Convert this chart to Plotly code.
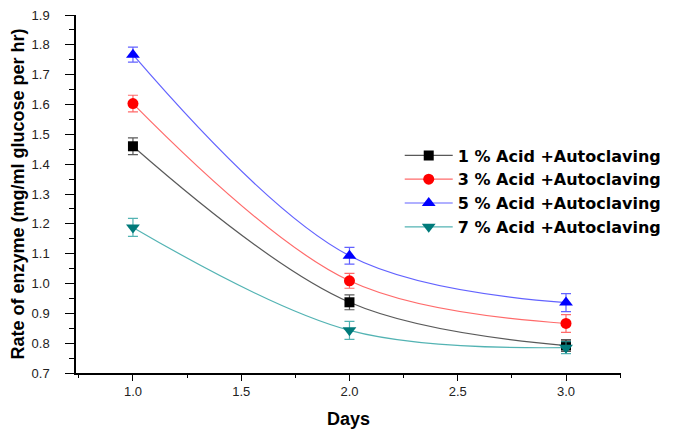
import plotly.graph_objects as go

days = [1.0, 2.0, 3.0]
series_names = ["1 % Acid +Autoclaving", "3 % Acid +Autoclaving",
                "5 % Acid +Autoclaving", "7 % Acid +Autoclaving"]
acid1 = [1.46, 0.937, 0.792]
acid3 = [1.603, 1.009, 0.866]
acid5 = [1.767, 1.093, 0.936]
acid7 = [1.188, 0.843, 0.785]
err1 = [0.028, 0.025, 0.02]
err3 = [0.028, 0.025, 0.03]
err5 = [0.025, 0.028, 0.03]
err7 = [0.03, 0.03, 0.02]

values = [acid1, acid3, acid5, acid7]
errors = [err1, err3, err5, err7]
marker_colors = ["#000000", "#ff0000", "#0000ff", "#007a7a"]
line_colors = ["rgba(60,60,60,0.85)", "rgba(255,80,80,0.85)",
               "rgba(70,70,255,0.85)", "rgba(40,160,160,0.8)"]
symbols = ["square", "circle", "triangle-up", "triangle-down"]
sizes = [10, 11, 12, 12]

fig = go.Figure()
for name, v, e, mc, lc, s, sz in zip(series_names, values, errors, marker_colors, line_colors, symbols, sizes):
    fig.add_trace(go.Scatter(
        x=days, y=v, name=name, mode="lines+markers",
        line=dict(color=lc, width=1.2, shape="spline", smoothing=1.0),
        marker=dict(symbol=s, color=mc, size=sz),
        error_y=dict(type="data", array=e, visible=True, color=lc, thickness=1.2, width=5),
    ))

font = "Liberation Sans, Arial, sans-serif"
fig.update_layout(
    width=685, height=430,
    margin=dict(l=68, r=72, t=7, b=65, autoexpand=False),
    paper_bgcolor="white", plot_bgcolor="white",
    font=dict(family=font, color="black"),
    showlegend=True,
    legend=dict(x=0.594, y=0.655, xanchor="left", yanchor="top",
                font=dict(size=16, family="DejaVu Sans, sans-serif", color="black", weight="bold"),
                bgcolor="rgba(0,0,0,0)", tracegroupgap=0, itemwidth=48),
    xaxis=dict(range=[0.737, 3.254], tick0=1.0, dtick=0.5, tickformat=".1f", automargin=False,
               showline=True, linecolor="black", linewidth=1.5, showgrid=False, zeroline=False,
               ticks="outside", ticklen=6, tickwidth=1.2, tickcolor="black",
               tickfont=dict(size=13, family=font, color="#222"),
               minor=dict(ticks="outside", ticklen=3, dtick=0.25, tick0=0.75, tickcolor="black", showgrid=False),
               title=dict(text="<b>Days</b>", font=dict(size=18, family=font), standoff=14)),
    yaxis=dict(range=[0.7, 1.9], tick0=0.7, dtick=0.1, tickformat=".1f", automargin=False,
               showline=True, linecolor="black", linewidth=1.5, showgrid=False, zeroline=False,
               ticks="outside", ticklen=9, tickwidth=1.2, tickcolor="black",
               ticklabelstandoff=13, ticklabeloverflow="allow",
               tickfont=dict(size=13, family=font, color="#222"),
               minor=dict(ticks="outside", ticklen=5, dtick=0.05, tick0=0.7, tickcolor="black", showgrid=False),
               title=dict(text="<b>Rate of enzyme (mg/ml glucose per hr)</b>", font=dict(size=18, family=font), standoff=2)),
)
fig.write_html("out.html")
